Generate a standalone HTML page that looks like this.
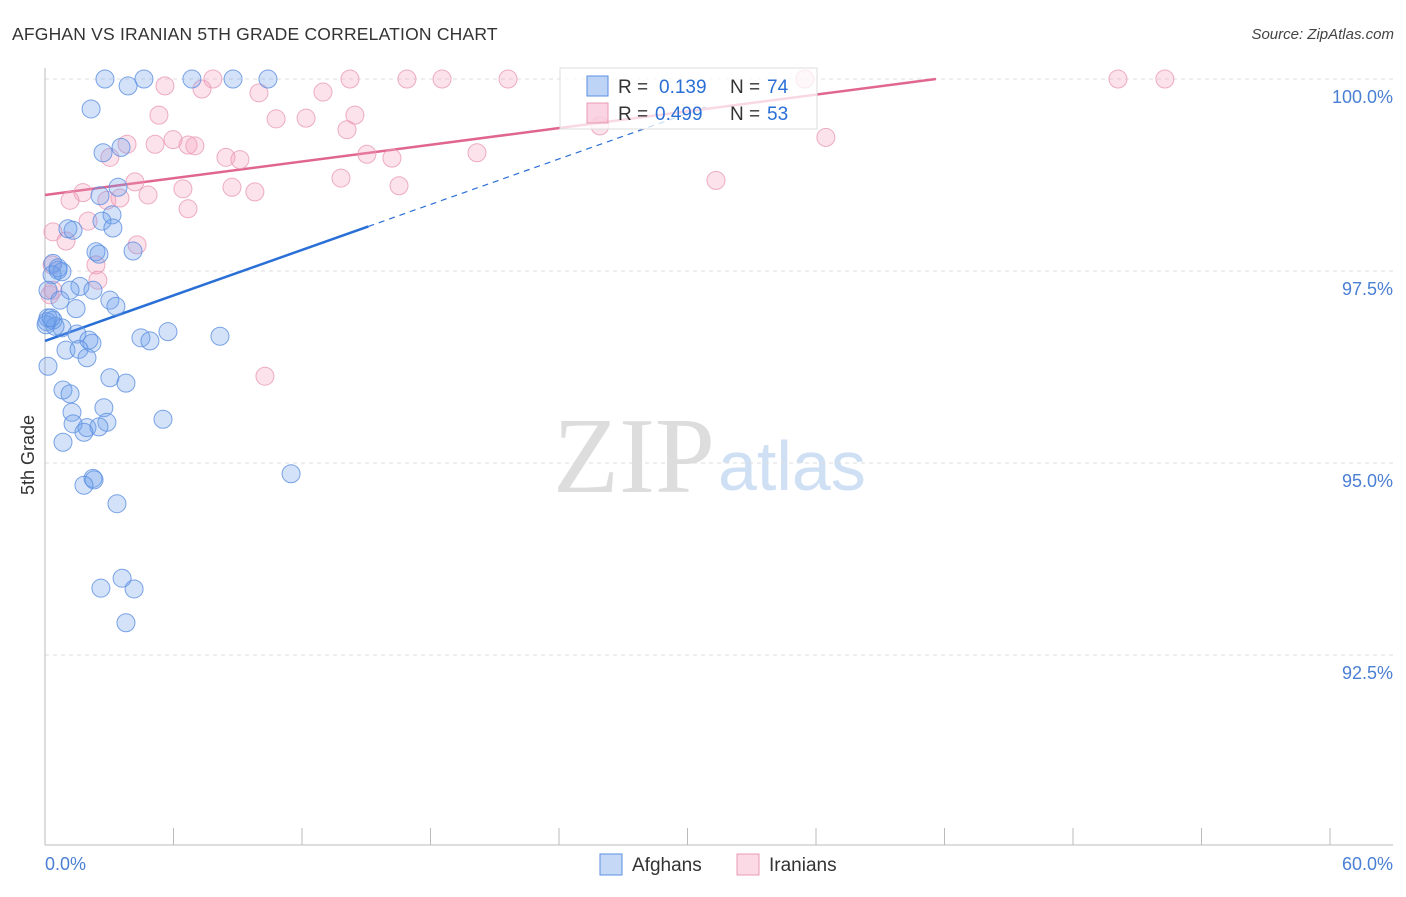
<!DOCTYPE html>
<html><head><meta charset="utf-8"><style>
body{margin:0;background:#fff;font-family:"Liberation Sans",sans-serif}
svg text{font-family:"Liberation Sans",sans-serif}
</style></head><body>
<svg id="chart" width="1406" height="892" xmlns="http://www.w3.org/2000/svg">
<text x="12" y="40" font-size="17.5" fill="#333" letter-spacing="0.2">AFGHAN VS IRANIAN 5TH GRADE CORRELATION CHART</text>
<text x="1394" y="39" font-size="15" fill="#444" font-style="italic" text-anchor="end">Source: ZipAtlas.com</text>
<text transform="translate(34,455) rotate(-90)" font-size="18" fill="#333" text-anchor="middle">5th Grade</text>
<g>
<text x="553" y="492" font-size="108" fill="#ddd" style="font-family:'Liberation Serif',serif">ZIP</text>
<text x="718" y="490" font-size="70" fill="#cfe0f5">atlas</text>
</g>
<g id="grid"></g>
<g id="axes"></g>
<g id="lines"></g>
<g id="pts"></g>
<g>
<rect x="560" y="68" width="257" height="61" fill="rgba(255,255,255,0.75)" stroke="#ddd"/>
<rect x="587" y="76" width="21" height="20" fill="rgba(110,160,235,0.45)" stroke="#5b8fe0"/>
<text x="618" y="93" font-size="19" fill="#333">R =</text><text x="659" y="93" font-size="19" fill="#2a6fd6">0.139</text>
<text x="730" y="93" font-size="19" fill="#333">N =</text><text x="767" y="93" font-size="19" fill="#2a6fd6">74</text>
<rect x="587" y="103" width="21" height="20" fill="rgba(245,160,190,0.45)" stroke="#e89ab5"/>
<text x="618" y="120" font-size="19" fill="#333">R =</text><text x="655" y="120" font-size="19" fill="#2a6fd6">0.499</text>
<text x="730" y="120" font-size="19" fill="#333">N =</text><text x="767" y="120" font-size="19" fill="#2a6fd6">53</text>
</g>
<g>
<rect x="600" y="854" width="22" height="21" fill="rgba(110,160,235,0.4)" stroke="#5b8fe0"/>
<text x="632" y="871" font-size="19" fill="#333">Afghans</text>
<rect x="737" y="854" width="22" height="21" fill="rgba(245,160,190,0.4)" stroke="#e89ab5"/>
<text x="769" y="871" font-size="19" fill="#333">Iranians</text>
</g>
</svg>
<script>
const yTicks=[100,97.5,95,92.5];
const yTickLabels=["100.0%","97.5%","95.0%","92.5%"];
const xTicks=[0,6,12,18,24,30,36,42,48,54,60];
const xTickLabels=["0.0%","60.0%"];
const afghanX=[2.80,4.62,6.86,8.78,10.41,3.88,2.15,2.71,3.55,3.41,2.57,3.13,2.66,3.17,1.07,1.31,2.38,2.52,4.11,0.37,0.61,0.79,0.33,0.14,1.63,1.17,2.24,3.03,3.31,1.45,0.79,0.14,0.37,0.05,0.47,1.49,2.05,2.19,4.48,4.90,5.74,8.17,0.98,1.59,0.14,1.96,3.03,3.78,0.84,1.17,1.26,2.75,2.89,1.31,1.96,2.52,1.82,5.51,0.84,2.24,2.29,1.82,3.36,11.49,2.61,3.60,4.16,3.78,0.61,0.09,0.28,0.70];
const afghanY=[100,100,100,100,100,99.91,99.61,99.04,99.11,98.59,98.48,98.23,98.15,98.06,98.05,98.03,97.75,97.72,97.76,97.60,97.51,97.49,97.45,97.25,97.30,97.25,97.25,97.12,97.04,97.01,96.76,96.89,96.86,96.80,96.78,96.68,96.60,96.56,96.63,96.59,96.71,96.65,96.47,96.48,96.26,96.37,96.11,96.04,95.95,95.90,95.66,95.72,95.53,95.51,95.46,95.47,95.40,95.57,95.27,94.80,94.78,94.71,94.47,94.86,93.37,93.50,93.36,92.92,97.54,96.84,96.89,97.12];
const iranX=[5.60,7.84,7.33,9.99,14.24,16.90,18.54,21.62,35.48,50.10,52.29,12.98,5.32,10.79,12.19,14.47,5.14,6.68,3.83,5.98,7.00,14.10,8.45,9.10,15.03,16.20,20.17,25.91,36.46,3.03,1.77,1.17,2.89,3.50,4.20,4.81,6.44,6.68,8.73,9.80,13.82,16.53,31.33,0.37,0.98,4.30,2.38,2.47,0.33,0.23,10.27,2.01,0.37];
const iranY=[99.91,100,99.87,99.82,100,100,100,100,100,100,100,99.83,99.53,99.48,99.49,99.53,99.15,99.14,99.15,99.21,99.13,99.34,98.98,98.95,99.02,98.97,99.04,99.39,99.24,98.98,98.52,98.42,98.42,98.45,98.66,98.49,98.57,98.31,98.59,98.53,98.71,98.61,98.68,98.01,97.89,97.84,97.58,97.38,97.58,97.19,96.13,98.15,97.25];
const afghanTrend=[96.59,0.0987]; // intercept, slope
const iranTrend=[98.49,0.0363];
const NS='http://www.w3.org/2000/svg';
const X=v=>45+v/60*1285;
const Y=v=>79+(100-v)/2.5*192;
function mk(t,a,p){const e=document.createElementNS(NS,t);for(const k in a)e.setAttribute(k,a[k]);document.getElementById(p).appendChild(e);return e;}
yTicks.forEach((t,i)=>{
 const l=mk('line',{x1:45,x2:1393,y1:Y(t),y2:Y(t),stroke:'#ddd','stroke-dasharray':'4,4'},'grid');
 
 
 const tx=mk('text',{x:1393,y:Y(t)+24,'font-size':18,fill:'#4a7fd4','text-anchor':'end'},'grid');
 tx.textContent=yTickLabels[i];
 
 
});
mk('line',{x1:45,x2:45,y1:68,y2:845,stroke:'#bbb'},'axes');
mk('line',{x1:45,x2:1393,y1:845,y2:845,stroke:'#bbb'},'axes');
xTicks.forEach(t=>{const l=mk('line',{x1:X(t),x2:X(t),y1:828,y2:845,stroke:'#bbb'},'axes');
 
 });
const xl0=mk('text',{x:45,y:870,'font-size':18,fill:'#4a7fd4'},'axes');xl0.textContent=xTickLabels[0];


const xl1=mk('text',{x:1393,y:870,'font-size':18,fill:'#4a7fd4','text-anchor':'end'},'axes');xl1.textContent=xTickLabels[1];


function pts(xs,ys,fill,stroke,name){xs.forEach((x,i)=>{const c=mk('circle',{cx:X(x),cy:Y(ys[i]),r:9,fill:fill,stroke:stroke,'stroke-width':1,'stroke-opacity':0.8},'pts');
 
 });}
pts(iranX,iranY,'rgba(245,160,190,0.3)','#e89ab5','iranian-point');
pts(afghanX,afghanY,'rgba(110,160,235,0.3)','#5b8fe0','afghan-point');
const f=(tr,x)=>tr[0]+tr[1]*x;
const b1=mk('line',{x1:X(0),y1:Y(f(afghanTrend,0)),x2:X(15.1),y2:Y(f(afghanTrend,15.1)),stroke:'#2a6fd6','stroke-width':2.5},'lines');


const b2=mk('line',{x1:X(15.1),y1:Y(f(afghanTrend,15.1)),x2:X(31),y2:Y(f(afghanTrend,31)),stroke:'#2a6fd6','stroke-width':1.2,'stroke-dasharray':'6,5'},'lines');


const xe=(100-iranTrend[0])/iranTrend[1];
const p1=mk('line',{x1:X(0),y1:Y(f(iranTrend,0)),x2:X(xe),y2:Y(100),stroke:'#e0668f','stroke-width':2.5},'lines');


</script>
</body></html>
